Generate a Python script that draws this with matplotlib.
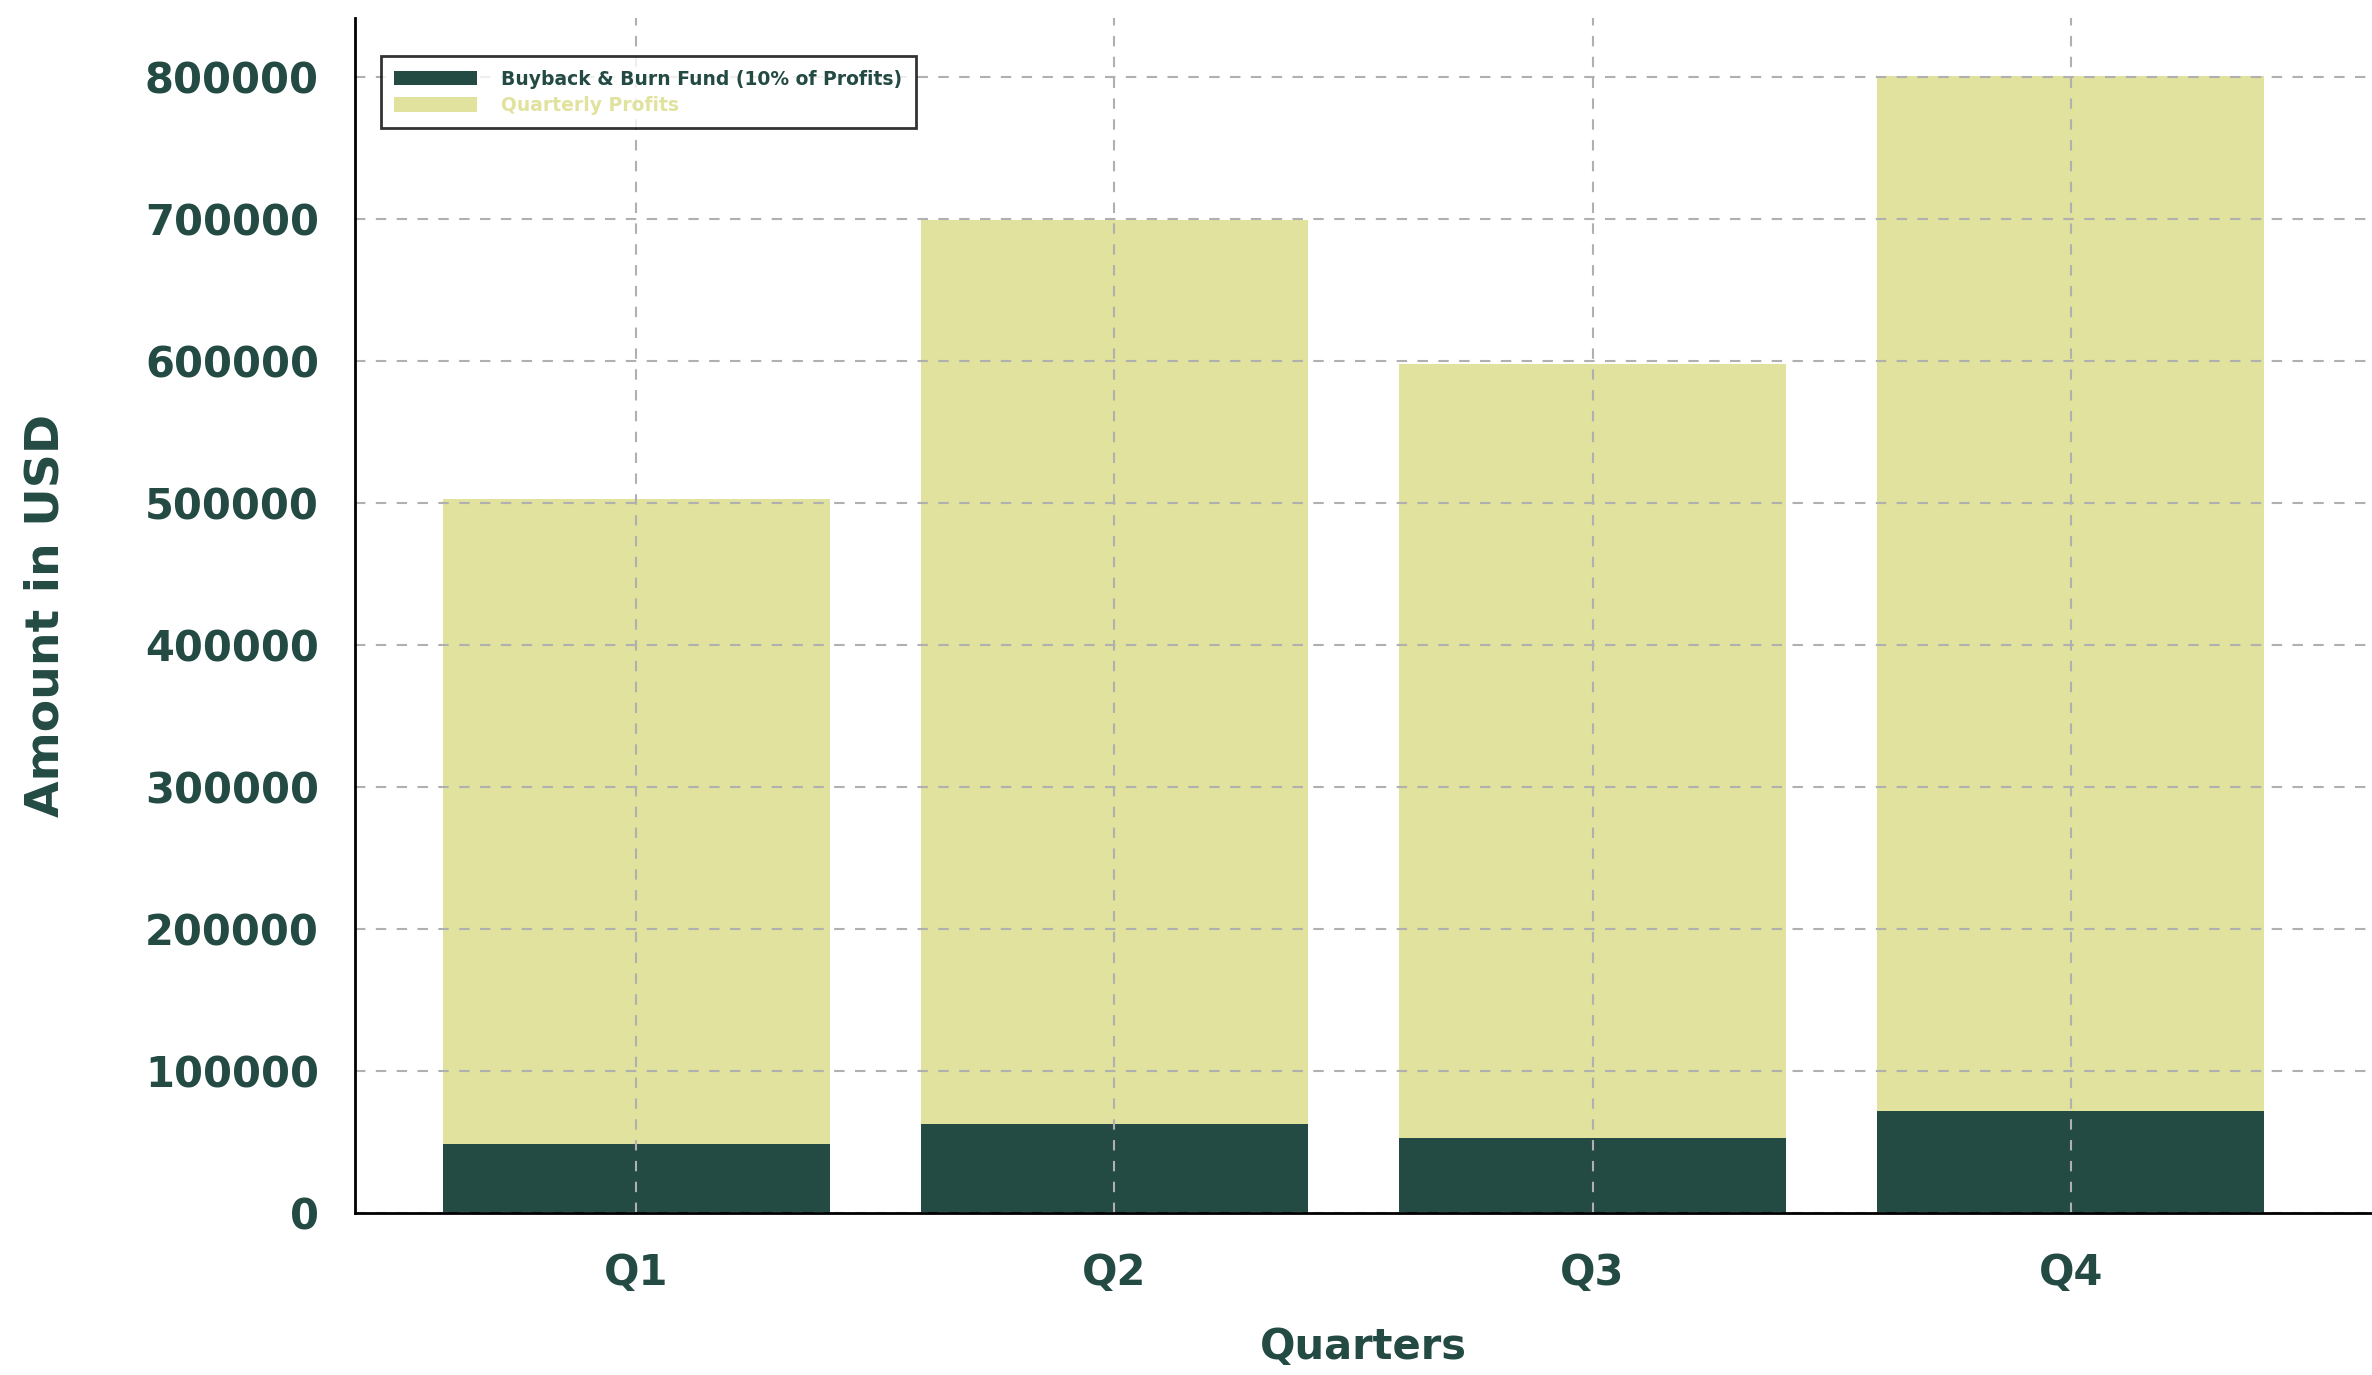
import matplotlib
matplotlib.use("Agg")
import matplotlib.pyplot as plt

quarters = ["Q1", "Q2", "Q3", "Q4"]
profits = [503000, 699000, 598000, 801000]
buyback = [48500, 62500, 52500, 72000]

dark = "#234A43"
light = "#E0E29D"

plt.rcParams["font.family"] = ["DejaVu Sans"]
plt.rcParams["font.weight"] = "bold"

fig = plt.figure(figsize=(23.72, 13.75), dpi=100)
ax = fig.add_axes([0.1497, 0.1178, 0.8503, 0.869])

x = range(len(quarters))
# 深色：回购基金；浅色：季度利润（叠在上面）
ax.bar(x, buyback, width=0.81, color=dark, label="Buyback & Burn Fund (10% of Profits)")
ax.bar(x, [p - b for p, b in zip(profits, buyback)], bottom=buyback, width=0.81,
       color=light, label="Quarterly Profits")

ax.set_xticks(list(x))
ax.set_xticklabels(quarters)
ax.set_xlim(-0.588, 3.63)
ax.set_ylim(0, 841500)
ax.set_yticks(range(0, 800001, 100000))

ax.set_axisbelow(False)
ax.grid(True, color="#b0b0b0", linestyle=(0, (5, 5)), linewidth=1.5)

for s in ["top", "right"]:
    ax.spines[s].set_visible(False)
for s in ["left", "bottom"]:
    ax.spines[s].set_linewidth(2)
    ax.spines[s].set_color("black")
    ax.spines[s].set_zorder(5)

ax.tick_params(axis="both", length=0, labelsize=30, labelcolor=dark)
ax.tick_params(axis="x", pad=28)
ax.tick_params(axis="y", pad=26)
for t in ax.get_xticklabels() + ax.get_yticklabels():
    t.set_fontweight("bold")

ax.set_xlabel("Quarters", fontsize=30, fontweight="bold", color=dark, labelpad=23)
ax.set_ylabel("Amount in USD", fontsize=34, fontweight="bold", color=dark, labelpad=55)

leg = ax.legend(loc="upper left", bbox_to_anchor=(0.013, 0.968), borderaxespad=0,
                fontsize=13.5, frameon=True, fancybox=False, edgecolor="black",
                handlelength=4.4, handleheight=0.8, handletextpad=1.3,
                labelspacing=0.4, borderpad=0.7)
leg.get_frame().set_linewidth(2)
for txt, c in zip(leg.get_texts(), [dark, light]):
    txt.set_color(c)
    txt.set_fontweight("bold")

plt.savefig("out.png", dpi=100)
